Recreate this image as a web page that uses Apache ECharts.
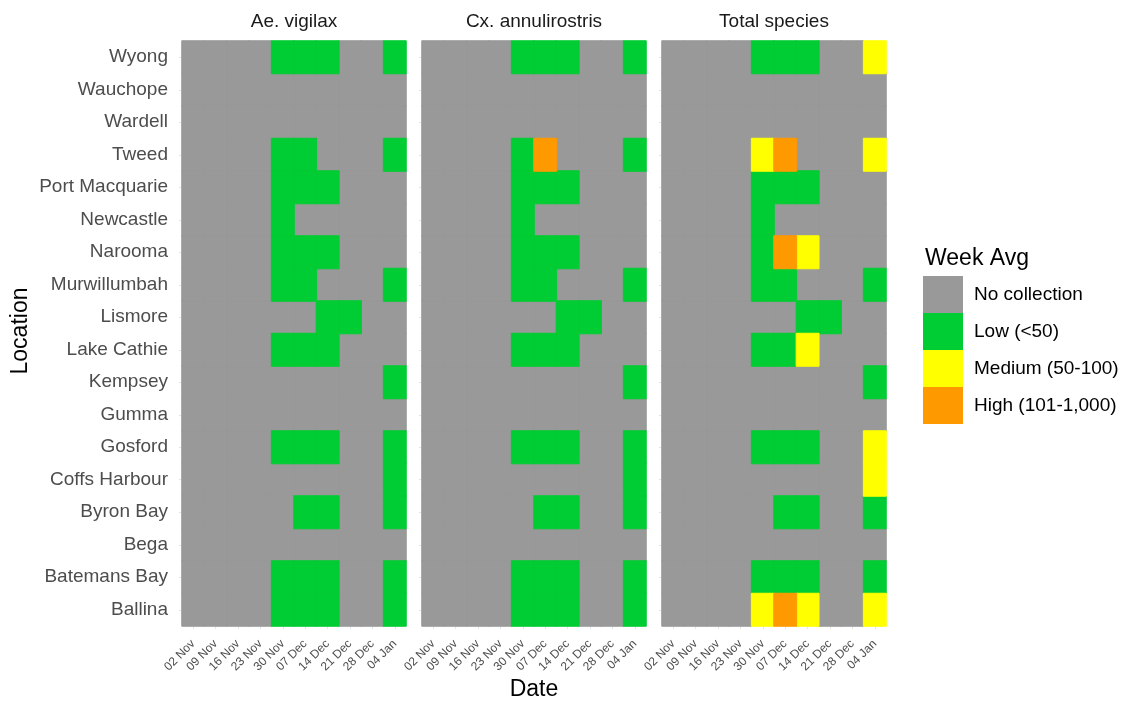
<!DOCTYPE html>
<html>
<head>
<meta charset="utf-8">
<script src="https://cdn.jsdelivr.net/npm/echarts@6/dist/echarts.min.js"></script>
<style>
html,body{margin:0;padding:0;background:#fff;}
#chart{width:1122px;height:705px;}
</style>
</head>
<body>
<div id="chart"></div>
<script>
// ---- data ----
const dates = ['02 Nov','09 Nov','16 Nov','23 Nov','30 Nov','07 Dec','14 Dec','21 Dec','28 Dec','04 Jan'];
const locations = ['Wyong','Wauchope','Wardell','Tweed','Port Macquarie','Newcastle','Narooma','Murwillumbah','Lismore','Lake Cathie','Kempsey','Gumma','Gosford','Coffs Harbour','Byron Bay','Bega','Batemans Bay','Ballina'];
const panels = ['Ae. vigilax','Cx. annulirostris','Total species'];
const levelNames = ['No collection','Low (<50)','Medium (50-100)','High (101-1,000)'];
// level codes per location (rows, top to bottom) by date (columns): 0 none, 1 low, 2 medium, 3 high
const aeVigilax = [
  [0,0,0,0,1,1,1,0,0,1],
  [0,0,0,0,0,0,0,0,0,0],
  [0,0,0,0,0,0,0,0,0,0],
  [0,0,0,0,1,1,0,0,0,1],
  [0,0,0,0,1,1,1,0,0,0],
  [0,0,0,0,1,0,0,0,0,0],
  [0,0,0,0,1,1,1,0,0,0],
  [0,0,0,0,1,1,0,0,0,1],
  [0,0,0,0,0,0,1,1,0,0],
  [0,0,0,0,1,1,1,0,0,0],
  [0,0,0,0,0,0,0,0,0,1],
  [0,0,0,0,0,0,0,0,0,0],
  [0,0,0,0,1,1,1,0,0,1],
  [0,0,0,0,0,0,0,0,0,1],
  [0,0,0,0,0,1,1,0,0,1],
  [0,0,0,0,0,0,0,0,0,0],
  [0,0,0,0,1,1,1,0,0,1],
  [0,0,0,0,1,1,1,0,0,1]
];
const cxAnnulirostris = [
  [0,0,0,0,1,1,1,0,0,1],
  [0,0,0,0,0,0,0,0,0,0],
  [0,0,0,0,0,0,0,0,0,0],
  [0,0,0,0,1,3,0,0,0,1],
  [0,0,0,0,1,1,1,0,0,0],
  [0,0,0,0,1,0,0,0,0,0],
  [0,0,0,0,1,1,1,0,0,0],
  [0,0,0,0,1,1,0,0,0,1],
  [0,0,0,0,0,0,1,1,0,0],
  [0,0,0,0,1,1,1,0,0,0],
  [0,0,0,0,0,0,0,0,0,1],
  [0,0,0,0,0,0,0,0,0,0],
  [0,0,0,0,1,1,1,0,0,1],
  [0,0,0,0,0,0,0,0,0,1],
  [0,0,0,0,0,1,1,0,0,1],
  [0,0,0,0,0,0,0,0,0,0],
  [0,0,0,0,1,1,1,0,0,1],
  [0,0,0,0,1,1,1,0,0,1]
];
const totalSpecies = [
  [0,0,0,0,1,1,1,0,0,2],
  [0,0,0,0,0,0,0,0,0,0],
  [0,0,0,0,0,0,0,0,0,0],
  [0,0,0,0,2,3,0,0,0,2],
  [0,0,0,0,1,1,1,0,0,0],
  [0,0,0,0,1,0,0,0,0,0],
  [0,0,0,0,1,3,2,0,0,0],
  [0,0,0,0,1,1,0,0,0,1],
  [0,0,0,0,0,0,1,1,0,0],
  [0,0,0,0,1,1,2,0,0,0],
  [0,0,0,0,0,0,0,0,0,1],
  [0,0,0,0,0,0,0,0,0,0],
  [0,0,0,0,1,1,1,0,0,2],
  [0,0,0,0,0,0,0,0,0,2],
  [0,0,0,0,0,1,1,0,0,1],
  [0,0,0,0,0,0,0,0,0,0],
  [0,0,0,0,1,1,1,0,0,1],
  [0,0,0,0,2,3,2,0,0,2]
];
const panelData = [aeVigilax, cxAnnulirostris, totalSpecies];
const levelColors = ['#999999','#00CC33','#FFFF00','#FF9900'];

// ---- chart ----
const FONT = '"Liberation Sans", Arial, sans-serif';
const chart = echarts.init(document.getElementById('chart'));
const grids = [], xAxes = [], yAxes = [], series = [], titles = [];
panels.forEach((name, i) => {
  const left = 182 + 240 * i;
  grids.push({left: left, top: 41, width: 224, height: 585});
  xAxes.push({
    type: 'category', gridIndex: i, data: dates,
    axisLine: {show: false},
    axisTick: {show: true, alignWithLabel: true, length: 3, lineStyle: {color: '#e6e6e6'}},
    axisLabel: {interval: 0, rotate: 45, fontSize: 12, color: '#4d4d4d', fontFamily: FONT,
                margin: 16, padding: [8, 0, 0, 0]},
    splitLine: {show: false}
  });
  yAxes.push({
    type: 'category', gridIndex: i, data: locations, inverse: true,
    axisLine: {show: false},
    axisTick: {show: true, alignWithLabel: true, length: 3, lineStyle: {color: '#e6e6e6'}},
    axisLabel: {show: i === 0, fontSize: 19, color: '#4d4d4d', fontFamily: FONT, margin: 14},
    splitLine: {show: false}
  });
  levelNames.forEach((lvName, k) => {
    const d = [];
    panelData[i].forEach((row, yi) => row.forEach((v, xi) => { if (v === k) d.push([xi, yi, v]); }));
    series.push({
      type: 'heatmap', name: lvName, xAxisIndex: i, yAxisIndex: i, data: d,
      itemStyle: {color: levelColors[k], borderColor: levelColors[k], borderWidth: 1},
      emphasis: {disabled: true}, silent: true
    });
  });
  titles.push({
    text: name, left: left + 112, top: 12, textAlign: 'center', padding: 0,
    textStyle: {fontSize: 19, fontWeight: 'normal', color: '#1a1a1a', fontFamily: FONT}
  });
});
titles.push({text: 'Week Avg', left: 920, top: 242,
  textStyle: {fontSize: 23, fontWeight: 'normal', color: '#000', fontFamily: FONT}});

chart.setOption({
  animation: false,
  backgroundColor: '#fff',
  title: titles,
  grid: grids,
  xAxis: xAxes,
  yAxis: yAxes,
  legend: {
    data: levelNames, orient: 'vertical', left: 923, top: 276, padding: 0,
    itemWidth: 38, itemHeight: 35, itemGap: 0, icon: 'rect', selectedMode: false,
    textStyle: {fontSize: 19, color: '#000', fontFamily: FONT, padding: [0, 0, 0, 7]}
  },
  graphic: [
    {type: 'text', x: 21, y: 331, rotation: Math.PI / 2,
     style: {text: 'Location', font: '23px ' + FONT, fill: '#000', textAlign: 'center', textVerticalAlign: 'middle'}},
    {type: 'text', x: 534, y: 690,
     style: {text: 'Date', font: '23px ' + FONT, fill: '#000', textAlign: 'center', textVerticalAlign: 'middle'}}
  ],
  series: series
});
</script>
</body>
</html>
